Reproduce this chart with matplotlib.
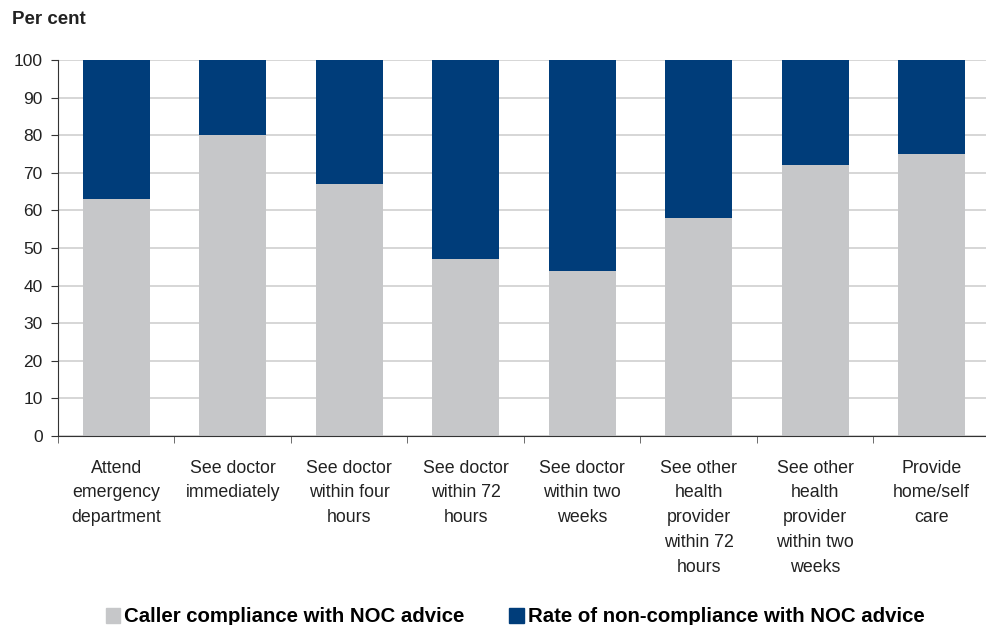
import numpy as np
import matplotlib
matplotlib.use("Agg")
import matplotlib.pyplot as plt
from matplotlib.patches import Patch

plt.rcParams["font.family"] = ["Liberation Sans", "DejaVu Sans"]

categories = [
    "Attend\nemergency\ndepartment",
    "See doctor\nimmediately",
    "See doctor\nwithin four\nhours",
    "See doctor\nwithin 72\nhours",
    "See doctor\nwithin two\nweeks",
    "See other\nhealth\nprovider\nwithin 72\nhours",
    "See other\nhealth\nprovider\nwithin two\nweeks",
    "Provide\nhome/self\ncare",
]
compliance = [63, 80, 67, 47, 44, 58, 72, 75]
non_compliance = [100 - v for v in compliance]

GREY = "#c6c7c9"
NAVY = "#003d7a"

fig = plt.figure(figsize=(9.87, 6.25), dpi=100)
ax = fig.add_axes([58 / 987, 1 - 436 / 625, 1 - 58 / 987 + 0.003, (436 - 60) / 625])

x = np.arange(len(categories))
ax.bar(x, compliance, width=0.575, color=GREY, zorder=2)
ax.bar(x, non_compliance, width=0.575, bottom=compliance, color=NAVY, zorder=2)

ax.set_xlim(-0.5, len(categories) - 0.5)
ax.set_ylim(0, 100)
ax.set_yticks(range(0, 101, 10))
ax.yaxis.grid(True, color="#d0d0d0", linewidth=1.2, zorder=0)
ax.tick_params(axis="y", labelsize=12.5, length=5, direction="out", color="#333333",
               pad=6, labelcolor="#222222")

ax.set_xticks(x)
ax.set_xticklabels(categories, fontsize=12.8, linespacing=1.6, color="#222222")
ax.tick_params(axis="x", length=0, pad=17)
ax.set_xticks(np.arange(-0.5, len(categories), 1), minor=True)
ax.tick_params(axis="x", which="minor", length=5, direction="out", color="#555555")

for s in ["top", "right"]:
    ax.spines[s].set_visible(False)
ax.spines["left"].set_color("#333333")
ax.spines["bottom"].set_color("#333333")

fig.text(12 / 987, 1 - 20 / 625, "Per cent", fontsize=13.5, fontweight="bold",
         va="center", ha="left", color="#222222")

handles = [Patch(color=GREY, label="Caller compliance with NOC advice"),
           Patch(color=NAVY, label="Rate of non-compliance with NOC advice")]
fig.legend(handles=handles, loc="center", bbox_to_anchor=(0.522, 1 - 617 / 625),
           ncol=2, frameon=False, prop={"weight": "bold", "size": 14.7},
           handlelength=0.7, handleheight=0.7, handletextpad=0.2, columnspacing=2.2)

fig.savefig("out.png", dpi=100)
